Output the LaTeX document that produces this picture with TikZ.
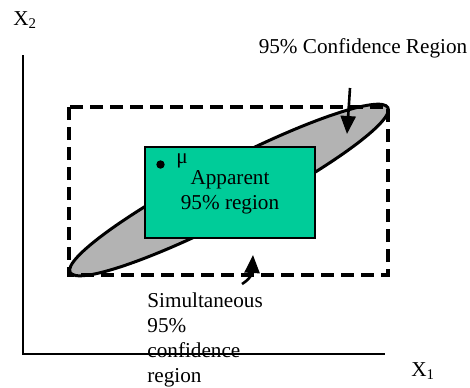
\documentclass[tikz,border=0pt]{standalone}
\usepackage{fontspec}
\setmainfont{Liberation Serif}
\usetikzlibrary{arrows.meta, positioning}
\definecolor{apgreen}{RGB}{0,204,153}
\definecolor{regiongray}{RGB}{179,179,179}

\begin{document}
\begin{tikzpicture}[
    x=0.5pt, y=-0.5pt,
    lbl/.style={inner sep=0pt, font=\fontsize{10.6}{12.6}\selectfont},
    axis/.style={line width=1.2pt},
    simbox/.style={dash pattern=on 6.5pt off 3.5pt, line width=1.6pt},
    region/.style={draw=black, fill=regiongray, line width=1.5pt},
    appbox/.style={rectangle, draw=black, line width=1.4pt, fill=apgreen,
                minimum width=85pt, minimum height=45.5pt, align=center,
                inner sep=0pt, font=\fontsize{10.6}{12.5}\selectfont},
    arrow/.style={-{Triangle[length=9pt,width=7.5pt]}, line width=1.3pt}
]
\useasboundingbox (0,0) rectangle (470,387);
% axes
\coordinate (origin) at (23,354);
\draw[axis] (23,55) -- (origin) -- (385,354);
\node[lbl, anchor=base west] (xtwo) at (13,25) {X\textsubscript{2}};
\node[lbl, anchor=base west] (xone) at (411,376) {X\textsubscript{1}};
% confidence ellipse and simultaneous box
\draw[region, rotate around={27.4:(229,190)}] (229,190) ellipse [x radius=179, y radius=27];
\draw[simbox] (69,107) rectangle (388,275);
% apparent region
\node[appbox] (app) at (230,192.5) {Apparent\\95\% region};
\fill (160.5,164.5) circle [radius=4.2];
\node[lbl, anchor=base west] (mu) at (176,163) {μ};
% labels and arrows
\node[lbl] (conf) at (363,48) {95\% Confidence Region};
\coordinate (confstart) at (350,88);
\coordinate (conftip) at (347,134);
\draw[arrow] (confstart) -- (conftip);
\node[lbl, anchor=north west, align=left] (sim) at (147,292) {Simultaneous\\95\%\\confidence\\region};
\coordinate (simstart) at (242,284);
\coordinate (simtip) at (253,255);
\draw[arrow] (simstart) .. controls (250,279) and (252,274) .. (simtip);
\end{tikzpicture}
\end{document}
